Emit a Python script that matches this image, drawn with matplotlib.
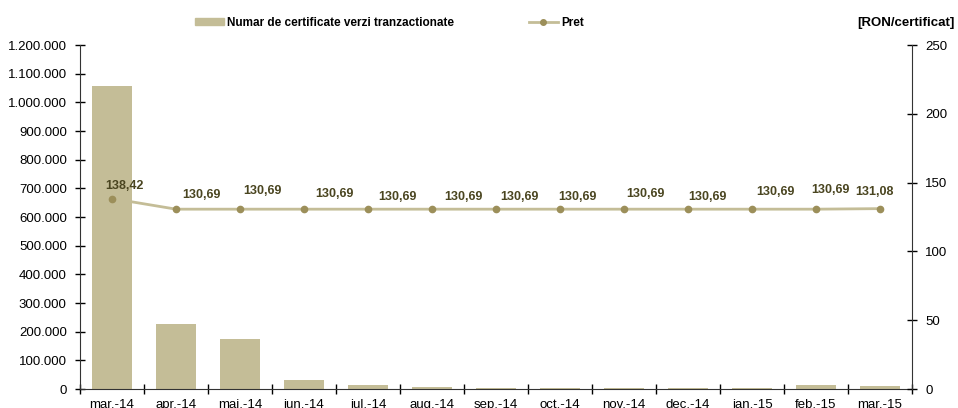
import matplotlib
matplotlib.use('Agg')
import matplotlib.pyplot as plt
from matplotlib.ticker import FuncFormatter
from matplotlib.patches import Patch
from matplotlib.lines import Line2D

plt.rcParams['font.family'] = ['Liberation Sans', 'DejaVu Sans']

# data
months = ['mar.-14', 'apr.-14', 'mai.-14', 'iun.-14', 'iul.-14', 'aug.-14', 'sep.-14',
          'oct.-14', 'nov.-14', 'dec.-14', 'ian.-15', 'feb.-15', 'mar.-15']
volume = [1057000, 228000, 173000, 30000, 14000, 6000, 4000, 4000, 4000, 4000, 4000, 13000, 10000]
price = [138.42, 130.69, 130.69, 130.69, 130.69, 130.69, 130.69, 130.69, 130.69, 130.69, 130.69, 130.69, 131.08]

# label offsets in pixels (dx, dy), as Excel placed them
label_dx = [12, 25, 22, 30, 29, 31, 23, 17, 21, 19, 23, 14, -6]
label_dy = [13, 14, 18, 15, 12, 12, 12, 12, 15, 12, 17, 19, 17]

bar_col = '#C4BD97'
mark_col = '#9C8F5A'
txt_col = '#4A4520'

fig = plt.figure(figsize=(9.58, 4.08), dpi=100)
ax = fig.add_axes([80/958, 19/408, 832/958, 344/408])
ax2 = ax.twinx()

x = list(range(len(months)))
ax.bar(x, volume, width=0.61, color=bar_col, zorder=2)
ax.set_xlim(-0.5, len(months) - 0.5)
ax.set_ylim(0, 1200000)
ax.set_yticks(range(0, 1200001, 100000))
ax.yaxis.set_major_formatter(FuncFormatter(lambda v, p: f'{int(v):,}'.replace(',', '.')))

ax.set_xticks(x)
ax.set_xticklabels(months)
ax.set_xticks([i - 0.5 for i in range(len(months) + 1)], minor=True)
ax.tick_params(axis='x', which='major', length=0, labelsize=9.5, pad=7)
ax.tick_params(axis='x', which='minor', direction='inout', length=7, width=1)
ax.tick_params(axis='y', direction='inout', length=7, width=1, labelsize=9.5, pad=6)

ax2.plot(x, price, color=bar_col, lw=2, marker='o', ms=4.5,
         markerfacecolor=mark_col, markeredgecolor=mark_col, zorder=3)
ax2.set_ylim(0, 250)
ax2.set_yticks(range(0, 251, 50))
ax2.tick_params(axis='y', direction='inout', length=7, width=1, labelsize=9.5, pad=6)

for i, p in enumerate(price):
    ax2.annotate(f'{p:.2f}'.replace('.', ','), (i, p),
                 xytext=(label_dx[i] * 0.72, label_dy[i] * 0.72), textcoords='offset points',
                 ha='center', va='center', fontsize=9, fontweight='bold', color=txt_col)

for a in (ax, ax2):
    a.spines['top'].set_visible(False)
    for s in ('left', 'right', 'bottom'):
        a.spines[s].set_color('#333333')
ax.spines['right'].set_visible(False)
ax2.spines['left'].set_visible(False)
ax2.spines['bottom'].set_visible(False)

handles = [Patch(color=bar_col),
           Line2D([], [], color=bar_col, lw=2, marker='o', ms=4,
                  markerfacecolor=mark_col, markeredgecolor=mark_col)]
fig.legend(handles, ['Numar de certificate verzi tranzactionate', 'Pret'],
           loc='center left', bbox_to_anchor=(190/958, 1 - 23/408), ncol=2, frameon=False,
           prop={'size': 8.5, 'weight': 'bold'}, handlelength=2.5, handleheight=0.55,
           handletextpad=0.25, columnspacing=6.3, borderaxespad=0)

fig.text(955/958, 1 - 23/408, '[RON/certificat]', ha='right', va='center',
         fontsize=9.5, fontweight='bold')

fig.savefig('out.png', dpi=100)
